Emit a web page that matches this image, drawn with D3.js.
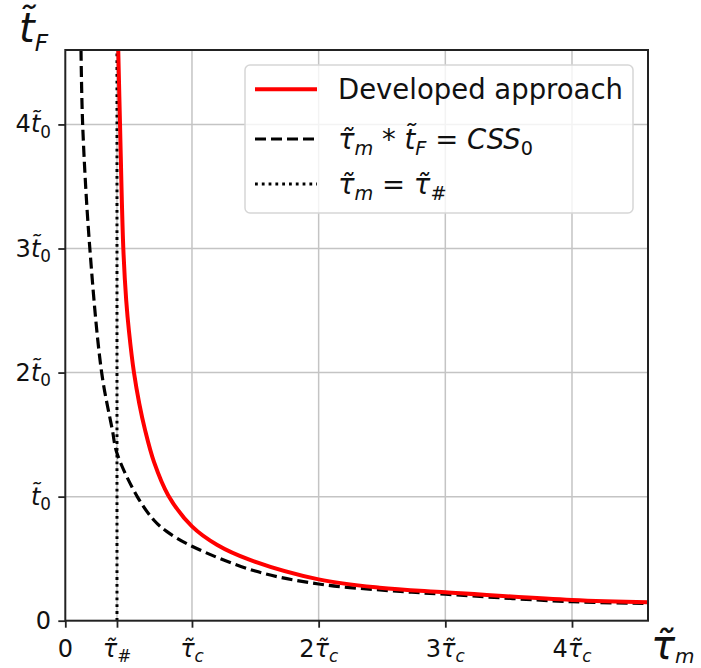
<!DOCTYPE html>
<html>
<head>
<meta charset="utf-8">
<script src="https://cdn.jsdelivr.net/npm/d3@7"></script>
<style>
  body { margin: 0; background: #fff; }
  svg { display: block; font-family: "DejaVu Sans", sans-serif; }
</style>
</head>
<body>
<div class="wrapper"></div>
<script>
const width = 701;
const height = 668;
const T = "\u0303"; // combining tilde

// values (units: tau_c on x, t_0 on y)
const tauHash = 0.408;
const devTau = [0.418, 0.432, 0.458, 0.481, 0.503, 0.542, 0.584, 0.629, 0.7, 0.813, 1.0, 1.2, 1.458, 2.0, 2.48, 3.0, 4.0, 4.6];
const devT = [4.6, 4.0, 3.0, 2.58, 2.33, 2.0, 1.75, 1.54, 1.28, 1.01, 0.76, 0.61, 0.49, 0.333, 0.266, 0.229, 0.167, 0.148];
const cssTau = [0.124, 0.137, 0.19, 0.287, 0.371, 0.408, 0.568, 0.7, 0.8, 1.0, 1.5, 2.0, 2.56, 3.0, 4.0, 4.6];
const cssT = [4.6, 4.0, 3.05, 2.0, 1.54, 1.35, 1.0, 0.81, 0.72, 0.6, 0.4, 0.296, 0.242, 0.213, 0.153, 0.14];

const xTicks = [0, tauHash, 1, 2, 3, 4];
const xTickLabels = [
  [{ t: "0" }],
  [{ t: "τ" + T, i: true }, { t: "#", sub: true }],
  [{ t: "τ" + T, i: true }, { t: "c", sub: true, i: true }],
  [{ t: "2" }, { t: "τ" + T, i: true }, { t: "c", sub: true, i: true }],
  [{ t: "3" }, { t: "τ" + T, i: true }, { t: "c", sub: true, i: true }],
  [{ t: "4" }, { t: "τ" + T, i: true }, { t: "c", sub: true, i: true }]
];
const yTicks = [0, 1, 2, 3, 4];
const yTickLabels = [
  [{ t: "0" }],
  [{ t: "t" + T, i: true }, { t: "0", sub: true }],
  [{ t: "2" }, { t: "t" + T, i: true }, { t: "0", sub: true }],
  [{ t: "3" }, { t: "t" + T, i: true }, { t: "0", sub: true }],
  [{ t: "4" }, { t: "t" + T, i: true }, { t: "0", sub: true }]
];
const legendItems = [
  { key: "dev", label: [{ t: "Developed approach" }] },
  { key: "css", label: [{ t: "τ" + T, i: true }, { t: "m", sub: true, i: true }, { t: " * " },
    { t: "t" + T, i: true }, { t: "F", sub: true, i: true }, { t: " = " }, { t: "CSS", i: true }, { t: "0", sub: true }] },
  { key: "hash", label: [{ t: "τ" + T, i: true }, { t: "m", sub: true, i: true }, { t: " = " },
    { t: "τ" + T, i: true }, { t: "#", sub: true }] }
];

const styles = {
  dev: { stroke: "#ff0000", width: 4, dash: null },
  css: { stroke: "#000", width: 3.2, dash: "11,5" },
  hash: { stroke: "#000", width: 3, dash: "2.8,4" }
};

const x = d3.scaleLinear([0, 4.6], [65.3, 648]);
const y = d3.scaleLinear([0, 4.6], [620.7, 50]);

const svg = d3.select(".wrapper").append("svg")
  .attr("width", width)
  .attr("height", height);

// writes a label made of parts into a text node; subscripts get smaller and dropped
function rich(textSel, parts, size, subRatio = 0.7, drop = 0.22) {
  let shift = 0;
  parts.forEach((p) => {
    const target = p.sub ? size * drop : 0;
    textSel.append("tspan")
      .attr("dy", target - shift)
      .attr("font-size", p.sub ? size * subRatio : size)
      .attr("font-style", p.i ? "italic" : "normal")
      .text(p.t);
    shift = target;
  });
}

svg.append("defs").append("clipPath").attr("id", "plot")
  .append("rect")
  .attr("x", x(0)).attr("y", y(4.6))
  .attr("width", x(4.6) - x(0)).attr("height", y(0) - y(4.6));

// grid
const grid = svg.append("g").attr("stroke", "#c4c4c4").attr("stroke-width", 1.5);
grid.selectAll(".gx").data(xTicks.slice(1)).join("line")
  .attr("x1", (d) => x(d)).attr("x2", (d) => x(d))
  .attr("y1", y(0)).attr("y2", y(4.6));
grid.selectAll(".gy").data(yTicks.slice(1)).join("line")
  .attr("y1", (d) => y(d)).attr("y2", (d) => y(d))
  .attr("x1", x(0)).attr("x2", x(4.6));

// curves
const plot = svg.append("g").attr("clip-path", "url(#plot)");
const line = d3.line().x((d) => x(d[0])).y((d) => y(d[1])).curve(d3.curveCatmullRom.alpha(0.5));

function drawSeries(path, key) {
  const s = styles[key];
  path.attr("fill", "none")
    .attr("stroke", s.stroke)
    .attr("stroke-width", s.width)
    .attr("stroke-dasharray", s.dash);
}

plot.append("path")
  .datum([[tauHash, 0], [tauHash, 4.6]])
  .attr("d", d3.line().x((d) => x(d[0])).y((d) => y(d[1])))
  .call(drawSeries, "hash");
plot.append("path")
  .datum(cssTau.map((d, i) => [d, cssT[i]]))
  .attr("d", line)
  .call(drawSeries, "css");
plot.append("path")
  .datum(devTau.map((d, i) => [d, devT[i]]))
  .attr("d", line)
  .call(drawSeries, "dev");

// axes (ticks only, labels drawn by hand)
const xAxis = svg.append("g")
  .attr("transform", `translate(0,${y(0)})`)
  .call(d3.axisBottom(x).tickValues(xTicks).tickFormat("").tickSize(7).tickSizeOuter(0));
const yAxis = svg.append("g")
  .attr("transform", `translate(${x(0)},0)`)
  .call(d3.axisLeft(y).tickValues(yTicks).tickFormat("").tickSize(7).tickSizeOuter(0));
[xAxis, yAxis].forEach((a) => {
  a.select(".domain").remove();
  a.selectAll(".tick line").attr("stroke", "#222").attr("stroke-width", 1.8);
});

svg.append("rect")
  .attr("x", x(0)).attr("y", y(4.6))
  .attr("width", x(4.6) - x(0)).attr("height", y(0) - y(4.6))
  .attr("fill", "none").attr("stroke", "#222").attr("stroke-width", 2);

svg.append("g").selectAll("text").data(xTicks).join("text")
  .attr("x", (d) => x(d))
  .attr("y", 657)
  .attr("text-anchor", "middle")
  .attr("fill", "#111")
  .each(function (d, i) { rich(d3.select(this), xTickLabels[i], 24); });

svg.append("g").selectAll("text").data(yTicks).join("text")
  .attr("x", 51)
  .attr("y", (d) => y(d) + 8)
  .attr("text-anchor", "end")
  .attr("fill", "#111")
  .each(function (d, i) { rich(d3.select(this), yTickLabels[i], 24); });

// axis titles
rich(svg.append("text").attr("x", 19).attr("y", 42).attr("fill", "#111"),
  [{ t: "t" + T, i: true }, { t: "F", sub: true, i: true }], 40, 0.58);
rich(svg.append("text").attr("x", 651).attr("y", 659).attr("fill", "#111"),
  [{ t: "τ" + T, i: true }, { t: "m", sub: true, i: true }], 40, 0.5, 0.1);

// legend
const legend = svg.append("g");
legend.append("rect")
  .attr("x", 245).attr("y", 65).attr("width", 388).attr("height", 148).attr("rx", 5)
  .attr("fill", "#fff").attr("fill-opacity", 0.8)
  .attr("stroke", "#d6d6d6").attr("stroke-width", 1.5);
const rowY = [89.3, 139, 184];
legendItems.forEach((item, i) => {
  legend.append("line")
    .attr("x1", 255).attr("x2", 317)
    .attr("y1", rowY[i]).attr("y2", rowY[i])
    .call(drawSeries, item.key);
  rich(legend.append("text").attr("x", 338).attr("y", rowY[i] + 10).attr("fill", "#111"),
    item.label, 27.5);
});
</script>
</body>
</html>
